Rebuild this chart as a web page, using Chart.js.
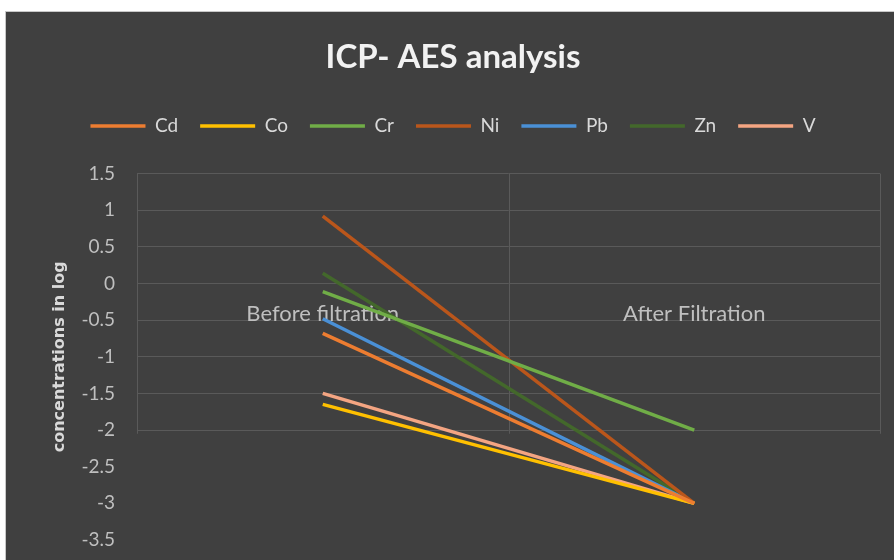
<!DOCTYPE html>
<html><head><meta charset="utf-8">
<script src="https://cdn.jsdelivr.net/npm/chart.js@4/dist/chart.umd.min.js"></script>
<style>
html,body{margin:0;padding:0;background:#fff;}
#wrap{position:absolute;left:5px;top:11px;width:888px;height:548px;border-left:1px solid #c8c8c8;border-top:1px solid #c8c8c8;background:#404040;}
canvas{display:block;}
</style></head><body>
<div id="wrap"><canvas id="c" width="888" height="548"></canvas></div>
<script>
const categories = ["Before filtration", "After Filtration"];
const seriesNames = ["Cd", "Co", "Cr", "Ni", "Pb", "Zn", "V"];
const Cd = [-0.68, -3];
const Co = [-1.65, -3];
const Cr = [-0.11, -2];
const Ni = [0.92, -3];
const Pb = [-0.48, -3];
const Zn = [0.14, -3];
const V  = [-1.5, -3];
const seriesValues = [Cd, Co, Cr, Ni, Pb, Zn, V];
const seriesColors = ["#ED7D31", "#FFC000", "#70AD47", "#BA561B", "#4A90D6", "#43682B", "#F4A582"];
const yTicks = [1.5, 1, 0.5, 0, -0.5, -1, -1.5, -2, -2.5, -3, -3.5];

const FONT = "Lato, 'Open Sans', sans-serif";

const catLabels = {
  id: 'catLabels',
  beforeDatasetsDraw(chart) {
    const {ctx, scales: {x, y}, chartArea} = chart;
    ctx.save();
    ctx.strokeStyle = '#5a5a5a';
    ctx.lineWidth = 1;
    const yb = y.getPixelForValue(-2.05);
    const p0 = x.getPixelForValue(0), p1 = x.getPixelForValue(1);
    [chartArea.left, (p0 + p1) / 2, chartArea.right].forEach(px => {
      ctx.beginPath(); ctx.moveTo(Math.round(px) + 0.5, chartArea.top); ctx.lineTo(Math.round(px) + 0.5, yb); ctx.stroke();
    });
    ctx.fillStyle = '#BFBFBF';
    ctx.font = "22px " + FONT;
    ctx.textAlign = 'center';
    ctx.textBaseline = 'middle';
    const ly = y.getPixelForValue(0) + 30;
    categories.forEach((c, i) => ctx.fillText(c, x.getPixelForValue(i), ly));
    ctx.restore();
  }
};

const legendFit = {
  id: 'legendFit',
  beforeInit(chart) {
    const orig = chart.legend.fit;
    chart.legend.fit = function () { orig.bind(chart.legend)(); this.height = 79; };
  }
};

new Chart(document.getElementById('c'), {
  type: 'line',
  data: {
    labels: categories,
    datasets: seriesNames.map((n, i) => ({
      label: n,
      data: seriesValues[i],
      borderColor: seriesColors[i],
      backgroundColor: seriesColors[i],
      borderWidth: 3.5,
      pointRadius: 0,
      tension: 0
    }))
  },
  plugins: [catLabels, legendFit],
  options: {
    responsive: false,
    animation: false,
    layout: { padding: { left: 20, right: 14, bottom: 20, top: 0 } },
    plugins: {
      title: {
        display: true,
        text: 'ICP- AES analysis',
        color: '#F2F2F2',
        font: { family: FONT, size: 33, weight: 'bold' },
        padding: { top: 26, bottom: 17 }
      },
      legend: {
        display: true,
        position: 'top',
        labels: {
          color: '#D9D9D9',
          font: { family: FONT, size: 19 },
          usePointStyle: true,
          pointStyle: 'line',
          pointStyleWidth: 55,
          boxHeight: 19,
          padding: 22
        }
      },
      tooltip: { enabled: false }
    },
    scales: {
      x: {
        type: 'category',
        offset: true,
        display: false
      },
      y: {
        min: -3.5,
        max: 1.5,
        afterFit(s) { s.width = 111; },
        afterBuildTicks(s) { s.ticks = yTicks.map(v => ({ value: v })); },
        ticks: {
          color: '#BFBFBF',
          font: { family: FONT, size: 19 },
          padding: 0,
          callback: v => String(v)
        },
        grid: {
          drawTicks: true,
          tickLength: 22,
          tickColor: 'rgba(0,0,0,0)',
          color: ctx => (ctx.tick && ctx.tick.value >= -2) ? '#5a5a5a' : 'rgba(0,0,0,0)'
        },
        border: { display: false },
        title: {
          display: true,
          text: 'concentrations in log',
          color: '#D9D9D9',
          font: { family: "'DejaVu Sans', sans-serif", size: 16, weight: 'bold' },
          padding: { top: 24, bottom: 0 }
        }
      }
    }
  }
});
</script>
</body></html>
